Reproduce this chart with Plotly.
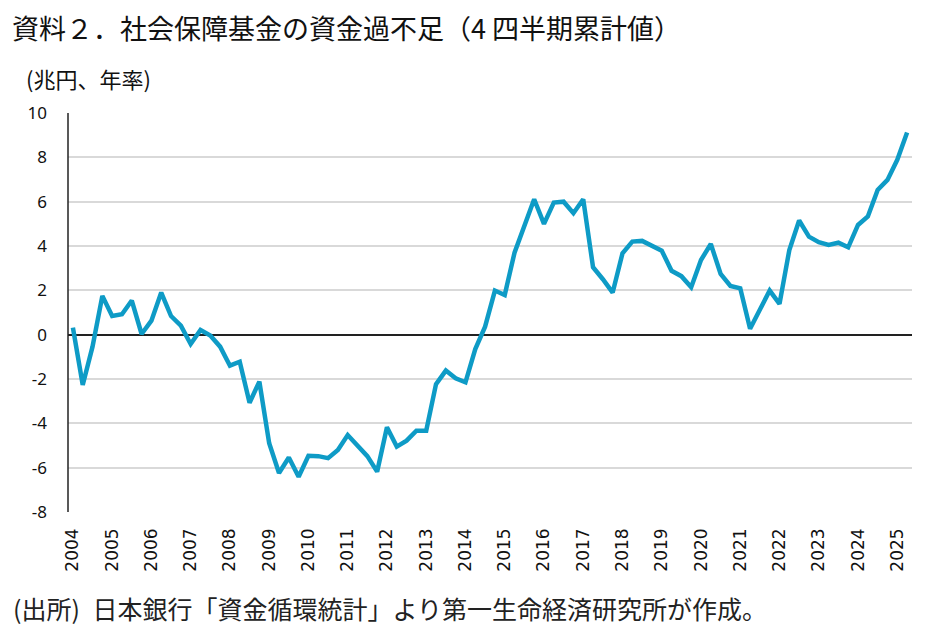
import plotly.graph_objects as go

# Quarterly data, 2004Q1 .. 2025Q2 (兆円、年率, 4四半期累計)
quarters = [f"{y}Q{q}" for y in range(2004, 2026) for q in range(1, 5)][:86]
values = [
    0.32, -2.27, -0.54, 1.75, 0.84, 0.92, 1.54, 0.03,      # 2004-2005
    0.63, 1.90, 0.84, 0.41, -0.42, 0.21, -0.04, -0.54,     # 2006-2007
    -1.40, -1.22, -3.07, -2.12, -4.90, -6.24, -5.54, -6.41, # 2008-2009
    -5.46, -5.48, -5.57, -5.20, -4.53, -4.98, -5.48, -6.18, # 2010-2011
    -4.18, -5.05, -4.78, -4.33, -4.33, -2.23, -1.62, -1.97, # 2012-2013
    -2.15, -0.65, 0.36, 1.99, 1.79, 3.70, 4.90, 6.11,       # 2014-2015
    5.00, 5.96, 6.00, 5.48, 6.11, 3.04, 2.50, 1.90,         # 2016-2017
    3.67, 4.20, 4.23, 4.00, 3.79, 2.88, 2.64, 2.14,         # 2018-2019
    3.37, 4.09, 2.74, 2.20, 2.09, 0.27, 1.08, 1.99,         # 2020-2021
    1.39, 3.82, 5.15, 4.42, 4.17, 4.05, 4.15, 3.94,         # 2022-2023
    4.95, 5.33, 6.53, 6.98, 7.89, 9.12,                     # 2024-2025
]
year_labels = [str(y) for y in range(2004, 2026)]
year_tick_idx = [quarters.index(f"{y}Q1") for y in range(2004, 2026)]
y_ticks = [10, 8, 6, 4, 2, 0, -2, -4, -6, -8]

title_text = "資料２．社会保障基金の資金過不足（4 四半期累計値）"
unit_text = "(兆円、年率)"
source_text = "(出所)\u2002日本銀行「資金循環統計」より第一生命経済研究所が作成。"

x_idx = list(range(len(values)))

fig = go.Figure()
fig.add_trace(go.Scatter(
    x=x_idx, y=values, mode="lines",
    line=dict(color="#0E9BC6", width=4.5),
    hoverinfo="skip", showlegend=False,
))

fig.update_layout(
    width=934, height=619,
    margin=dict(l=60, r=30, t=105, b=115, autoexpand=False),
    paper_bgcolor="white", plot_bgcolor="white",
    font=dict(family="Noto Sans CJK JP, Noto Sans, sans-serif", color="#111111"),
    xaxis=dict(
        range=[-0.5, len(values) - 0.5],
        tickmode="array", tickvals=year_tick_idx, ticktext=year_labels,
        tickangle=-90, ticks="", showgrid=False, zeroline=False,
        showline=False, ticklabelstandoff=12,
        tickfont=dict(family="DejaVu Sans, sans-serif", size=17, color="#111111"),
    ),
    yaxis=dict(
        range=[-8, 10], tickmode="array", tickvals=y_ticks,
        ticktext=[str(v) for v in y_ticks],
        showgrid=True, gridcolor="#d9d9d9", gridwidth=1.5,
        zeroline=True, zerolinecolor="#222222", zerolinewidth=2,
        showline=False, ticks="", ticklabelstandoff=20,
        tickfont=dict(family="Noto Sans, sans-serif", size=17, color="#111111"),
    ),
    shapes=[dict(type="line", xref="paper", yref="paper", x0=0, x1=0, y0=0, y1=1,
                 line=dict(color="#222222", width=1.5))],
    annotations=[
        dict(text=title_text,
             xref="paper", yref="paper", x=0, y=1.0, xshift=-58, yshift=86,
             xanchor="left", yanchor="middle", showarrow=False,
             font=dict(size=27, color="#111111", family="Noto Sans CJK JP")),
        dict(text=unit_text,
             xref="paper", yref="paper", x=0, y=1.0, xshift=-44, yshift=35,
             xanchor="left", yanchor="middle", showarrow=False,
             font=dict(size=22, color="#111111", family="Noto Sans CJK JP")),
        dict(text=source_text,
             xref="paper", yref="paper", x=0, y=0, xshift=-57, yshift=-96,
             xanchor="left", yanchor="middle", showarrow=False,
             font=dict(size=25, color="#222222", family="Noto Sans CJK JP")),
    ],
)

fig.write_html("out.html")
